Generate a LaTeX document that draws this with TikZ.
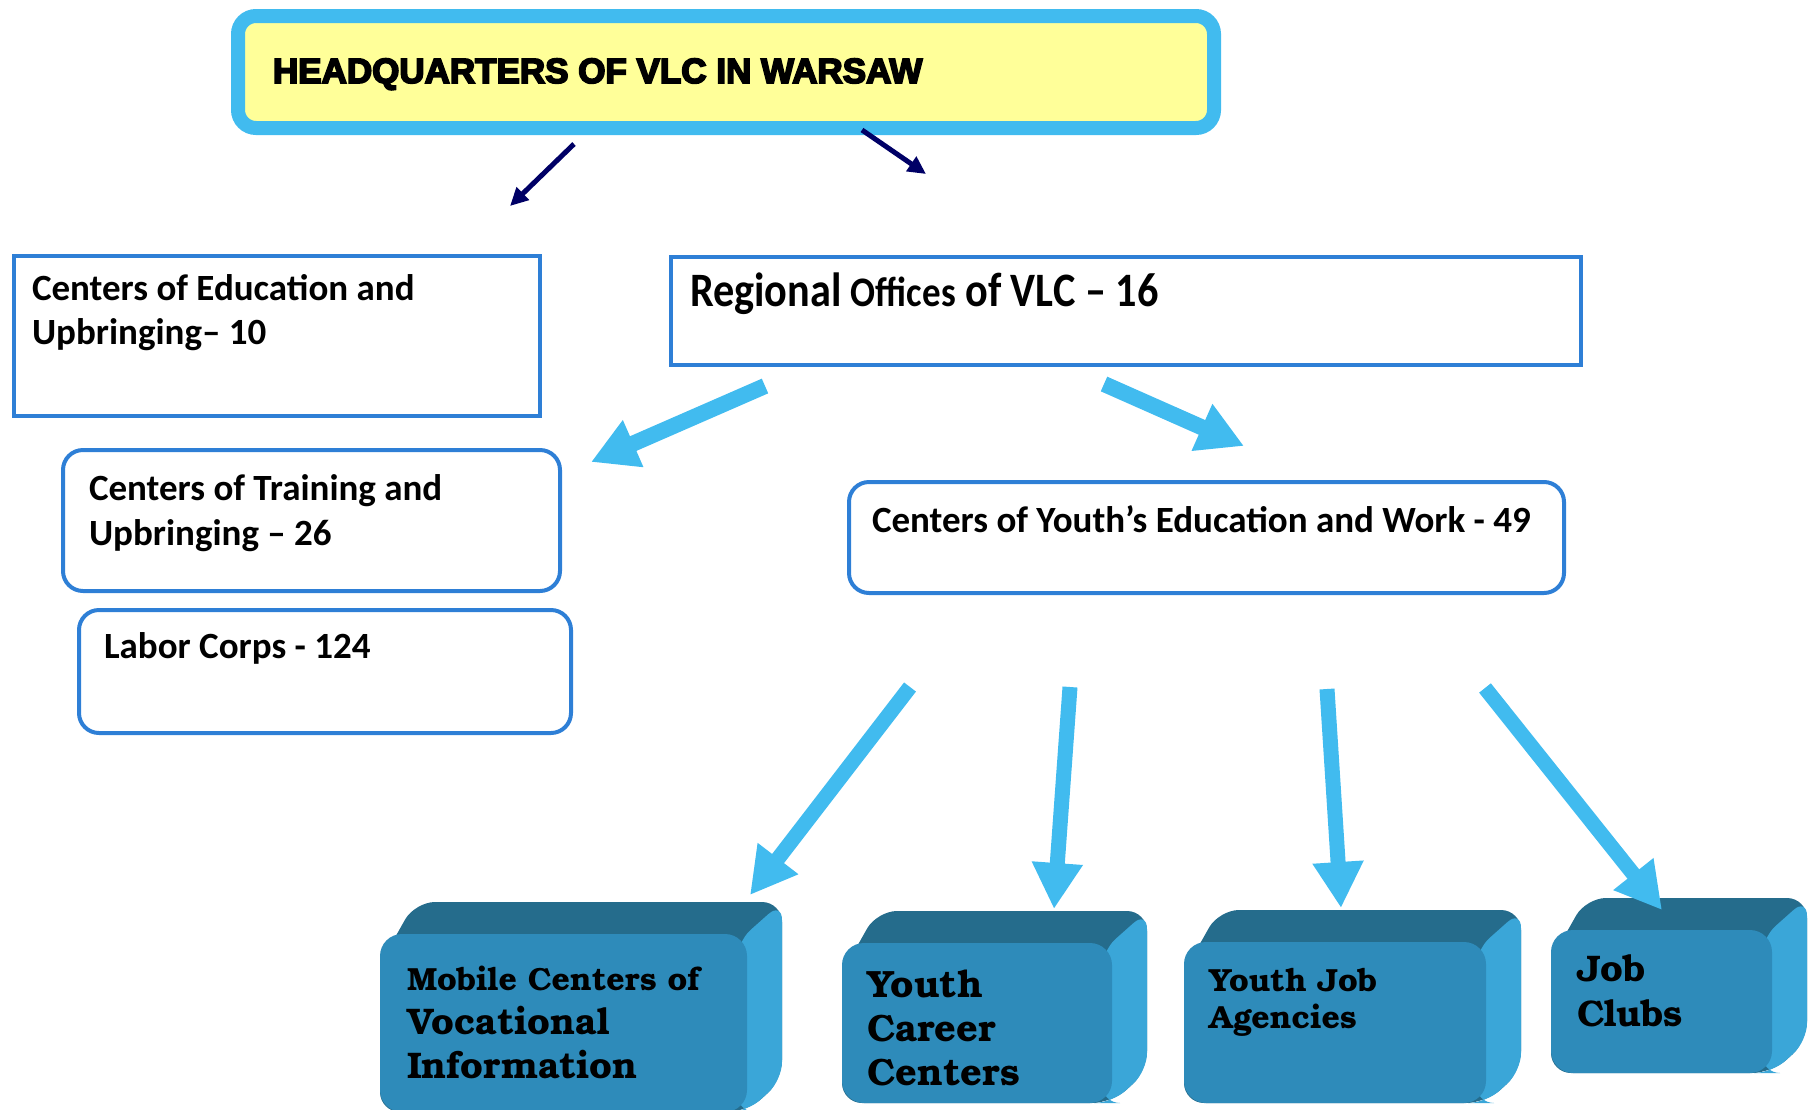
\documentclass[tikz,border=0pt]{standalone}
\usepackage{fontspec}
\usetikzlibrary{arrows.meta}

\newfontfamily\calibri{Carlito}
\newfontfamily\calibrinarrow{Carlito}[FakeStretch=0.88]
\newfontfamily\hqfont{Liberation Sans}[FakeBold=5]
\newfontfamily\bookman{TeX Gyre Bonum}

\definecolor{hqblue}{RGB}{65,187,239}
\definecolor{hqyellow}{RGB}{255,255,153}
\definecolor{boxblue}{RGB}{46,127,214}
\definecolor{navy}{RGB}{0,0,102}
\definecolor{cubefront}{RGB}{46,139,186}
\definecolor{cubetop}{RGB}{37,108,140}
\definecolor{cubeside}{RGB}{58,166,216}

% depth of the blocks
\def\dx{35}
\def\dy{32}
% top and side faces of a block (x1,y1,x2,y2 of its front)
\newcommand{\cubeback}[4]{%
  \fill[cubetop, rounded corners=20pt] (#1,#2+30) -- (#1+\dx,#2-\dy) -- (#3+\dx,#2-\dy)
    -- (#3+\dx,#4-\dy) -- (#3,#4) -- (#1,#4) -- cycle;
  \fill[cubeside, rounded corners=18pt] (#3-10,#2+40) -- (#3-10,#2+8) -- (#3+\dx,#2-\dy)
    -- (#3+\dx,#4-\dy) -- (#3,#4) -- (#3-10,#4) -- cycle;
}

\begin{document}
\begin{tikzpicture}[x=1pt, y=-1pt,
    box/.style={draw=boxblue, line width=4pt, anchor=north west, inner sep=0pt, outer sep=0pt},
    roundbox/.style={box, rounded corners=20pt},
    cube/.style={fill=cubefront, rounded corners=22pt, anchor=north west, inner sep=0pt, outer sep=0pt},
    txt/.style={anchor=base west, inner sep=0pt, outer sep=0pt, align=left},
    navyarrow/.style={draw=navy, line width=5pt, -{Triangle[length=18pt,width=17pt]}},
    bluearrow/.style={draw=hqblue, line width=16pt, -{Triangle[length=46pt,width=48pt]}}]

    \useasboundingbox (0,0) rectangle (1809,1109);

    % Headquarters
    \node[draw=hqblue, line width=14pt, fill=hqyellow, rounded corners=18pt, anchor=north west,
          inner sep=0pt, outer sep=0pt, minimum width=976pt, minimum height=112pt] (hq) at (238,16) {};
    \node[txt] (hqtxt) at ([shift={(35,67)}]hq.north west)
        {\hqfont\bfseries\fontsize{35}{40}\selectfont HEADQUARTERS OF VLC IN WARSAW};

    % Boxes on the left
    \node[box, minimum width=526pt, minimum height=160pt] (edu) at (14,256) {};
    \node[txt] (edutxt) at ([shift={(18,44)}]edu.north west)
        {\parbox[t]{480pt}{\calibri\bfseries\fontsize{37}{44}\selectfont Centers of Education and\\Upbringing– 10}};

    \node[roundbox, minimum width=497pt, minimum height=141pt] (train) at (63,450) {};
    \node[txt] (traintxt) at ([shift={(26,50)}]train.north west)
        {\parbox[t]{450pt}{\calibri\bfseries\fontsize{37}{45}\selectfont Centers of Training and\\Upbringing – 26}};

    \node[roundbox, minimum width=492pt, minimum height=123pt] (labor) at (79,610) {};
    \node[txt] (labortxt) at ([shift={(25,48)}]labor.north west)
        {\calibri\bfseries\fontsize{37}{44}\selectfont Labor Corps - 124};

    % Regional offices and youth centers
    \node[box, minimum width=910pt, minimum height=108pt] (reg) at (671,257) {};
    \node[txt] (regtxt) at ([shift={(19,49)}]reg.north west)
        {\calibrinarrow\bfseries\fontsize{48}{56}\selectfont Regional {\fontsize{42}{56}\selectfont Offices} of VLC – 16};

    \node[roundbox, minimum width=715pt, minimum height=111pt] (youth) at (849,482) {};
    \node[txt] (youthtxt) at ([shift={(23,50)}]youth.north west)
        {\calibri\bfseries\fontsize{37}{44}\selectfont Centers of Youth’s Education and Work - 49};

    % Blocks at the bottom
    \cubeback{380}{934}{747}{1112}
    \node[cube, minimum width=367pt, minimum height=178pt] (mob) at (380,934) {};
    \node[txt] (mobtxt) at ([shift={(27,56)}]mob.north west)
        {\parbox[t]{340pt}{\bookman\bfseries\fontsize{37}{44}\selectfont
         {\fontsize{32}{44}\selectfont Mobile Centers of}\\Vocational\\Information}};

    \cubeback{842}{943}{1112}{1103}
    \node[cube, minimum width=270pt, minimum height=160pt] (career) at (842,943) {};
    \node[txt] (careertxt) at ([shift={(25,54)}]career.north west)
        {\parbox[t]{240pt}{\bookman\bfseries\fontsize{38}{44}\selectfont Youth\\Career\\Centers}};

    \cubeback{1184}{942}{1486}{1103}
    \node[cube, minimum width=302pt, minimum height=161pt] (agency) at (1184,942) {};
    \node[txt] (agencytxt) at ([shift={(25,49)}]agency.north west)
        {\parbox[t]{270pt}{\bookman\bfseries\fontsize{32}{37}\selectfont Youth Job\\Agencies}};

    \cubeback{1551}{930}{1772}{1073}
    \node[cube, minimum width=221pt, minimum height=143pt] (clubs) at (1551,930) {};
    \node[txt] (clubstxt) at ([shift={(26,51)}]clubs.north west)
        {\parbox[t]{190pt}{\bookman\bfseries\fontsize{37}{45}\selectfont Job\\Clubs}};

    % Arrows
    \draw[navyarrow] ([shift={(336,16)}]hq.south west) -- ([shift={(-30,-50)}]edu.north east);
    \draw[navyarrow] ([shift={(624,2)}]hq.south west) -- ([shift={(255,-83)}]reg.north west);

    \draw[bluearrow] ([shift={(94,21)}]reg.south west) -- ([shift={(31,12)}]train.north east);
    \draw[bluearrow] ([shift={(433,19)}]reg.south west) -- ([shift={(395,-36)}]youth.north west);

    \draw[bluearrow, line width=15pt] ([shift={(61,94)}]youth.south west) -- ([shift={(370,-39)}]mob.north west);
    \draw[bluearrow, line width=15pt] ([shift={(221,94)}]youth.south west) -- ([shift={(212,-34)}]career.north west);
    \draw[bluearrow, line width=15pt] ([shift={(478,96)}]youth.south west) -- ([shift={(157,-34)}]agency.north west);
    \draw[bluearrow, line width=15pt] ([shift={(636,95)}]youth.south west) -- ([shift={(111,-20)}]clubs.north west);
\end{tikzpicture}
\end{document}
